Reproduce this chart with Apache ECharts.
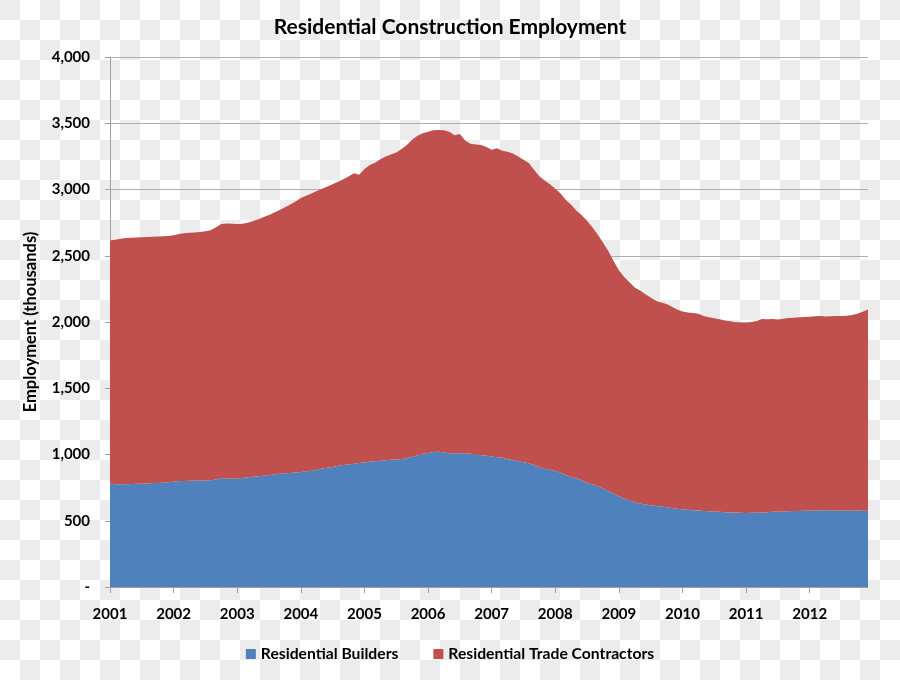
<!DOCTYPE html>
<html>
<head>
<meta charset="utf-8">
<script src="https://cdn.jsdelivr.net/npm/echarts@6/dist/echarts.min.js"></script>
<style>
html,body{margin:0;padding:0;width:900px;height:680px;overflow:hidden;}
body{background:repeating-conic-gradient(#fff 0% 25%, #ececec 0% 50%) 0 0 / 40px 40px;}
#chart{width:900px;height:680px;}
</style>
</head>
<body>
<div id="chart"></div>
<script>
const years = ['2001','2002','2003','2004','2005','2006','2007','2008','2009','2010','2011','2012'];
const yTicks = [0,500,1000,1500,2000,2500,3000,3500,4000];

const residentialBuilders = [
  782, 776, 775, 776, 778, 779, 780, 782, 784, 785, 787, 790,
  795, 800, 800, 801, 802, 803, 804, 806, 812, 822, 818, 817,
  818, 822, 828, 832, 836, 840, 846, 850, 854, 858, 861, 864,
  868, 872, 877, 885, 895, 900, 906, 913, 920, 925, 930, 935,
  940, 945, 950, 953, 956, 960, 963, 966, 972, 983, 995, 1005,
  1012, 1018, 1021, 1016, 1010, 1008, 1010, 1009, 1005, 1000, 995, 990,
  985, 980, 975, 964, 958, 950, 942, 934, 920, 905, 893, 885,
  875, 862, 845, 830, 818, 805, 785, 775, 760, 745, 722, 705,
  685, 668, 652, 640, 630, 622, 617, 612, 607, 602, 596, 590,
  586, 583, 580, 577, 574, 571, 569, 567, 565, 563, 562, 561,
  559, 560, 562, 563, 565, 567, 568, 570, 571, 573, 574, 575,
  576, 577, 578, 580, 579, 578, 577, 576, 576, 577, 576, 576
];

const residentialTradeContractors = [
  1833, 1844, 1853, 1858, 1858, 1859, 1860, 1860, 1860, 1860, 1861, 1860,
  1860, 1864, 1870, 1873, 1874, 1877, 1880, 1886, 1903, 1918, 1926, 1925,
  1922, 1920, 1922, 1930, 1940, 1952, 1962, 1976, 1991, 2008, 2026, 2046,
  2067, 2080, 2093, 2103, 2110, 2122, 2134, 2145, 2158, 2173, 2192, 2177,
  2215, 2240, 2252, 2275, 2294, 2305, 2317, 2339, 2363, 2392, 2410, 2420,
  2423, 2430, 2429, 2431, 2425, 2402, 2408, 2361, 2340, 2340, 2341, 2330,
  2315, 2332, 2317, 2321, 2314, 2300, 2283, 2266, 2230, 2195, 2175, 2155,
  2130, 2108, 2075, 2055, 2022, 2000, 1980, 1940, 1900, 1855, 1813, 1755,
  1705, 1672, 1648, 1620, 1608, 1588, 1568, 1548, 1541, 1533, 1519, 1505,
  1494, 1489, 1488, 1485, 1471, 1464, 1459, 1453, 1447, 1442, 1436, 1434,
  1433, 1440, 1446, 1459, 1455, 1455, 1450, 1455, 1459, 1459, 1462, 1463,
  1464, 1466, 1467, 1462, 1465, 1467, 1469, 1472, 1476, 1485, 1502, 1519
];

const months = [];
years.forEach(y => { for (let m = 1; m <= 12; m++) months.push(y + '-' + (m < 10 ? '0' + m : m)); });

const FONT = 'Lato';
const chart = echarts.init(document.getElementById('chart'), null, {renderer: 'canvas'});
chart.setOption({
  backgroundColor: 'transparent',
  animation: false,
  title: {
    text: 'Residential Construction Employment',
    left: 'center', top: 12,
    textStyle: {fontFamily: FONT, fontWeight: 'bold', fontSize: 21, color: '#000'}
  },
  legend: {
    bottom: 13, left: 'center',
    itemWidth: 10, itemHeight: 10, itemGap: 35,
    icon: 'rect',
    textStyle: {fontFamily: FONT, fontWeight: 'bold', fontSize: 15.7, color: '#000'},
    data: ['Residential Builders', 'Residential Trade Contractors']
  },
  grid: {left: 110, right: 32, top: 57, bottom: 93, containLabel: false},
  xAxis: {
    type: 'category',
    boundaryGap: false,
    data: months,
    axisLine: {show: true, lineStyle: {color: '#a0a0a0'}},
    axisTick: {show: true, length: 6, interval: (i) => i % 12 === 0, lineStyle: {color: '#a0a0a0'}},
    axisLabel: {
      interval: (i) => i % 12 === 0,
      formatter: (v) => v.slice(0, 4),
      margin: 20,
      fontFamily: FONT, fontWeight: 'bold', fontSize: 15, color: '#000'
    },
    splitLine: {show: false}
  },
  yAxis: {
    type: 'value',
    min: yTicks[0], max: yTicks[yTicks.length - 1], interval: 500,
    name: 'Employment (thousands)',
    nameLocation: 'middle', nameGap: 71, nameRotate: 90,
    nameTextStyle: {fontFamily: FONT, fontWeight: 'bold', fontSize: 16.5, color: '#000'},
    axisLine: {show: true, lineStyle: {color: '#a0a0a0'}},
    axisTick: {show: true, length: 5, lineStyle: {color: '#a0a0a0'}},
    axisLabel: {
      margin: 20,
      formatter: (v) => v === 0 ? '-' : v.toLocaleString('en-US'),
      fontFamily: FONT, fontWeight: 'bold', fontSize: 15, color: '#000'
    },
    splitLine: {show: true, lineStyle: {color: '#b0b0b0', width: 1}}
  },
  series: [
    {
      name: 'Residential Builders', type: 'line', stack: 'total',
      data: residentialBuilders, symbol: 'none',
      lineStyle: {width: 0}, areaStyle: {color: '#4f81bd', opacity: 1},
      itemStyle: {color: '#4f81bd'}
    },
    {
      name: 'Residential Trade Contractors', type: 'line', stack: 'total',
      data: residentialTradeContractors, symbol: 'none',
      lineStyle: {width: 0}, areaStyle: {color: '#c0504d', opacity: 1},
      itemStyle: {color: '#c0504d'}
    }
  ]
});
</script>
</body>
</html>
